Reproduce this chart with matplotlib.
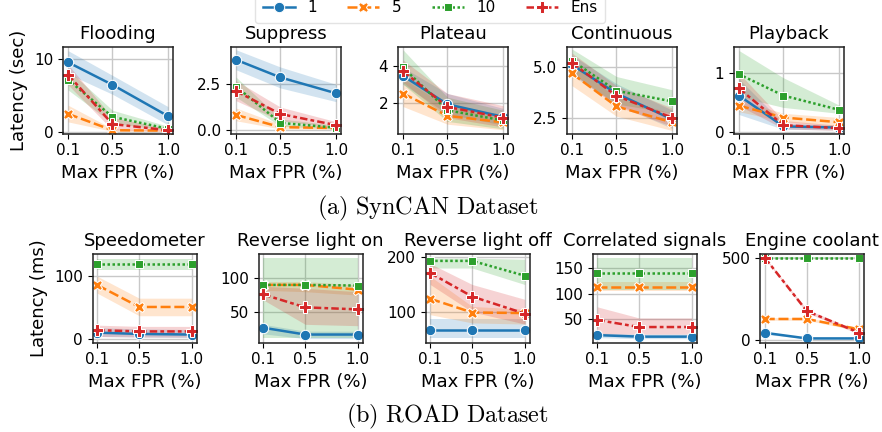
import matplotlib
matplotlib.use("Agg")
import matplotlib.pyplot as plt

plt.rcParams['mathtext.fontset'] = 'cm'

fpr = [0.1, 0.5, 1.0]
fpr_labels = ["0.1", "0.5", "1.0"]
series = ["1", "5", "10", "Ens"]

# each panel: rows = series (1, 5, 10, Ens), cols = fpr
flooding_mean = [[9.6, 6.5, 2.2], [2.5, 0.25, 0.2], [7.2, 2.1, 0.45], [7.9, 1.1, 0.25]]
flooding_lo = [[8.0, 5.2, 1.0], [1.4, 0.1, 0.1], [5.8, 1.2, 0.25], [6.5, 0.3, 0.1]]
flooding_hi = [[11.2, 7.8, 3.5], [3.7, 0.45, 0.3], [8.6, 3.0, 0.8], [9.3, 2.0, 0.5]]

suppress_mean = [[3.85, 2.88, 2.01], [0.82, 0.15, 0.1], [2.38, 0.38, 0.12], [2.13, 0.87, 0.26]]
suppress_lo = [[3.3, 2.3, 1.55], [0.5, 0.05, 0.03], [1.8, 0.2, 0.05], [1.6, 0.5, 0.1]]
suppress_hi = [[4.4, 3.45, 2.5], [1.2, 0.3, 0.2], [2.9, 0.6, 0.25], [2.7, 1.25, 0.45]]

plateau_mean = [[3.45, 1.92, 1.25], [2.5, 1.3, 0.95], [3.9, 1.6, 1.05], [3.7, 1.78, 1.2]]
plateau_lo = [[3.0, 1.4, 0.8], [1.8, 0.85, 0.55], [3.0, 1.0, 0.6], [3.1, 1.2, 0.7]]
plateau_hi = [[3.9, 2.5, 1.7], [3.3, 1.8, 1.4], [4.85, 2.3, 1.6], [4.3, 2.5, 1.85]]

continuous_mean = [[5.12, 3.72, 2.45], [4.7, 3.08, 2.3], [5.33, 3.85, 3.33], [5.22, 3.6, 2.53]]
continuous_lo = [[4.6, 3.2, 2.0], [4.1, 2.6, 1.9], [4.7, 3.2, 2.75], [4.7, 3.1, 2.1]]
continuous_hi = [[5.6, 4.2, 2.9], [5.2, 3.5, 2.75], [5.9, 4.55, 3.9], [5.7, 4.1, 3.0]]

playback_mean = [[0.62, 0.1, 0.08], [0.45, 0.25, 0.17], [0.98, 0.62, 0.38], [0.74, 0.12, 0.07]]
playback_lo = [[0.3, 0.05, 0.04], [0.35, 0.18, 0.1], [0.6, 0.42, 0.32], [0.45, 0.06, 0.03]]
playback_hi = [[0.9, 0.15, 0.12], [0.55, 0.32, 0.25], [1.38, 0.92, 0.46], [1.0, 0.2, 0.12]]

speedo_mean = [[10, 8, 7], [86, 51, 51], [119, 119, 119], [14, 12, 12]]
speedo_lo = [[4, 3, 2], [73, 37, 37], [110, 110, 110], [4, 3, 3]]
speedo_hi = [[18, 16, 15], [100, 65, 65], [128, 128, 128], [22, 20, 20]]

revon_mean = [[27, 17, 17], [90, 90, 83], [90, 90, 89], [76, 57, 54]]
revon_lo = [[18, 11, 11], [82, 80, 75], [12, 12, 12], [68, 32, 30]]
revon_hi = [[32, 22, 22], [95, 95, 90], [129, 129, 129], [88, 85, 80]]

revoff_mean = [[68, 68, 68], [124, 99, 98], [193, 193, 166], [171, 128, 97]]
revoff_lo = [[52, 52, 52], [95, 80, 78], [180, 180, 150], [150, 100, 78]]
revoff_hi = [[88, 88, 88], [165, 110, 105], [198, 198, 196], [188, 150, 123]]

corr_mean = [[18, 15, 15], [114, 114, 114], [140, 140, 140], [48, 34, 34]]
corr_lo = [[13, 11, 11], [105, 105, 105], [108, 108, 108], [20, 20, 20]]
corr_hi = [[22, 20, 20], [124, 124, 124], [170, 170, 170], [74, 52, 52]]

coolant_mean = [[44, 10, 10], [128, 128, 65], [500, 500, 500], [500, 176, 44]]
coolant_lo = [[35, 8, 8], [120, 120, 55], [495, 495, 495], [495, 165, 35]]
coolant_hi = [[52, 14, 14], [136, 136, 75], [505, 505, 505], [505, 186, 55]]

colors = ["#1f77b4", "#ff7f0e", "#2ca02c", "#d62728"]
markers = ["o", "X", "s", "P"]
msizes = [7.5, 7.5, 6, 8]
dashes = [(), (4, 1.5), (1, 1), (3, 1.25, 1.5, 1.25)]

top_panels = [
    ("Flooding", flooding_mean, flooding_lo, flooding_hi, [0, 10], ["0", "10"], (-0.2, 11.7)),
    ("Suppress", suppress_mean, suppress_lo, suppress_hi, [0, 2.5], ["0.0", "2.5"], (-0.2, 4.55)),
    ("Plateau", plateau_mean, plateau_lo, plateau_hi, [2, 4], ["2", "4"], (0.35, 5.0)),
    ("Continuous", continuous_mean, continuous_lo, continuous_hi, [2.5, 5.0], ["2.5", "5.0"], (1.75, 6.0)),
    ("Playback", playback_mean, playback_lo, playback_hi, [0, 1], ["0", "1"], (-0.02, 1.44)),
]
bottom_panels = [
    ("Speedometer", speedo_mean, speedo_lo, speedo_hi, [0, 100], ["0", "100"], (-6, 135)),
    ("Reverse light on", revon_mean, revon_lo, revon_hi, [50, 100], ["50", "100"], (5, 135)),
    ("Reverse light off", revoff_mean, revoff_lo, revoff_hi, [100, 200], ["100", "200"], (44, 205)),
    ("Correlated signals", corr_mean, corr_lo, corr_hi, [50, 100, 150], ["50", "100", "150"], (3, 178)),
    ("Engine coolant", coolant_mean, coolant_lo, coolant_hi, [0, 500], ["0", "500"], (-16, 520)),
]

W, H = 882, 432
fig = plt.figure(figsize=(W / 100, H / 100), dpi=100)


def draw_panel(ax, title, mean, lo, hi, yt, ytl, ylim):
    for i in range(len(series)):
        ax.fill_between(fpr, lo[i], hi[i], color=colors[i], alpha=0.2, linewidth=0)
    handles = []
    for i in range(len(series)):
        ln, = ax.plot(fpr, mean[i], color=colors[i], marker=markers[i], markersize=msizes[i],
                      markeredgecolor="white", markeredgewidth=0.75, linewidth=1.8,
                      dashes=dashes[i], label=series[i])
        handles.append(ln)
    ax.set_title(title, fontsize=13)
    ax.set_xticks(fpr)
    ax.set_xticklabels(fpr_labels, fontsize=11)
    ax.set_yticks(yt)
    ax.set_yticklabels(ytl, fontsize=11)
    ax.set_ylim(*ylim)
    ax.set_xlim(0.1 - 0.045, 1.0 + 0.045)
    ax.set_xlabel("Max FPR (%)", fontsize=13)
    ax.grid(True, color="#c8c8c8", linewidth=1.0)
    ax.set_axisbelow(True)
    for s in ax.spines.values():
        s.set_linewidth(1.1)
        s.set_color("#222222")
    return handles


top_lefts = [63, 231, 398, 567, 734]
for k, p in enumerate(top_panels):
    ax = fig.add_axes([top_lefts[k] / W, 1 - 133.5 / H, 110 / W, 86.5 / H])
    handles = draw_panel(ax, *p)
    if k == 0:
        ax.set_ylabel("Latency (sec)", fontsize=13)

bottom_lefts = [92.5, 258.5, 425.5, 592.5, 760]
for k, p in enumerate(bottom_panels):
    ax = fig.add_axes([bottom_lefts[k] / W, 1 - 342.7 / H, 104 / W, 88.4 / H])
    draw_panel(ax, *p)
    if k == 0:
        ax.set_ylabel("Latency (ms)", fontsize=13)

fig.legend(handles, series, loc="upper center", bbox_to_anchor=(0.4875, 1.035), ncol=4,
           fontsize=11, columnspacing=2.0, handlelength=2.1, borderpad=0.5,
           frameon=True, edgecolor="#dddddd")

fig.text(0.4847, 0.5185, r"$\mathrm{(a)\ SynCAN\ Dataset}$", fontsize=17.5, ha="center", va="center")
fig.text(0.507, 0.0355, r"$\mathrm{(b)\ ROAD\ Dataset}$", fontsize=17.5, ha="center", va="center")

fig.savefig("out.png", dpi=100)
